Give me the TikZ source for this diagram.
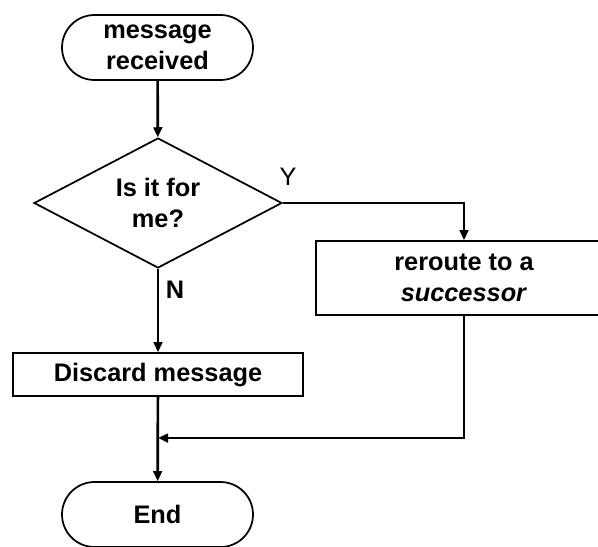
\documentclass[tikz,border=0pt]{standalone}
\usepackage{fontspec}
\setmainfont{Liberation Sans}
\usetikzlibrary{shapes.geometric, shapes.misc, arrows.meta}

\begin{document}
\begin{tikzpicture}[x=0.75pt, y=-0.75pt,
		every node/.style={font=\fontsize{19}{23}\selectfont\bfseries, align=center, inner sep=0pt},
		terminal/.style={rounded rectangle, draw, line width=1.3pt, minimum width=143.25pt, minimum height=48.75pt},
		decision/.style={diamond, draw, line width=1.3pt, minimum width=186pt, minimum height=97.5pt, aspect=1.9},
		process/.style={rectangle, draw, line width=1.3pt},
		flow/.style={line width=2pt, -{Triangle[length=7.5pt, width=6.5pt]}}]
		\clip (0,0) rectangle (598,546);
		\node[terminal] (start) at (157.5,47.5) {message\\received};
		\node[decision] (decide) at (158,203) {Is it for\\me?};
		\node[process, minimum width=222pt, minimum height=55.5pt] (reroute) at (464,278) {reroute to a\\\textit{successor}};
		\node[process, minimum width=217.5pt, minimum height=32.25pt] (discard) at (158,374.5) {Discard message};
		\node[terminal] (end) at (157.5,514.5) {End};
		\coordinate (join) at (158,438);
		
		\path[flow]
		(start) edge (decide)
		(decide.east) edge[to path={-| (\tikztotarget)}] (reroute.north)
		(decide) edge (discard)
		(discard) edge (end)
		(reroute.south) edge[to path={|- (\tikztotarget)}] (join);
		\node[font=\fontsize{19}{23}\selectfont] (yes) at (288,177) {Y};
		\node (no) at (175,290) {N};
	\end{tikzpicture}
\end{document}
